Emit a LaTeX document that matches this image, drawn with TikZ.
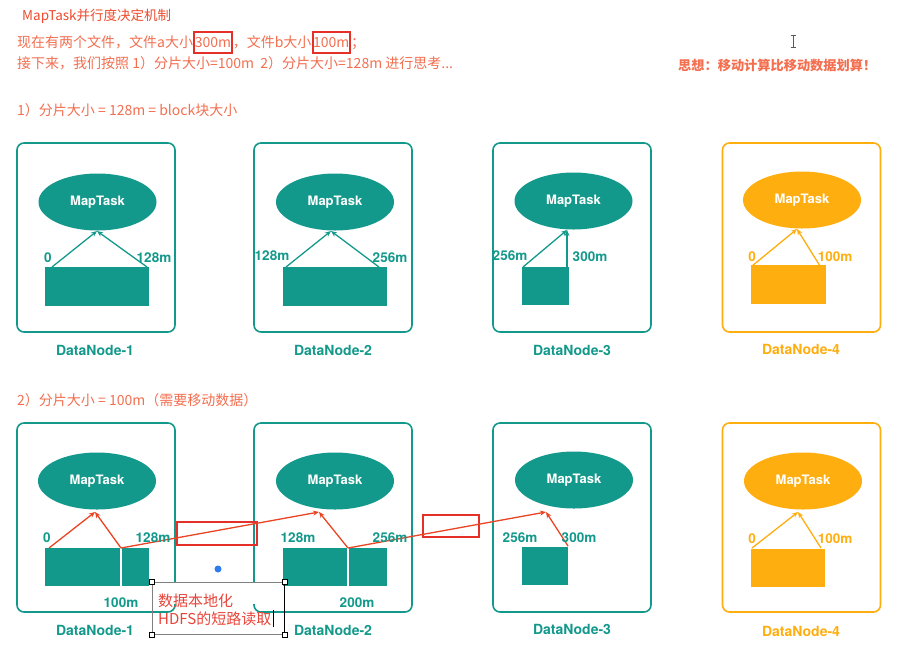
\documentclass[tikz,border=0pt]{standalone}
\usepackage{fontspec}
\setmainfont{TeX Gyre Heros}
\newfontfamily\cjk{Noto Sans CJK SC}
\usetikzlibrary{shapes.geometric,arrows.meta}
\definecolor{tealc}{HTML}{13998B}
\definecolor{orng}{HTML}{FFAE10}
\definecolor{salmon}{HTML}{F36F50}
\definecolor{titlered}{HTML}{EE4C2E}
\definecolor{boxred}{HTML}{E5302A}
\definecolor{arrred}{HTML}{EA4424}
\definecolor{annred}{HTML}{E8443A}
\definecolor{dotblue}{HTML}{2E7CF0}
\begin{document}
\begin{tikzpicture}[x=1pt,y=-1pt,
  hdr/.style={font=\cjk\fontsize{14}{17}\selectfont,text=salmon,inner sep=0pt},
  redsel/.style={hdr,draw=boxred,line width=2pt,inner xsep=0.5pt,minimum height=21pt},
  dnbox/.style={draw=tealc,line width=1.6pt,rounded corners=7pt,minimum width=158pt,minimum height=189pt,inner sep=0pt},
  dnboxo/.style={dnbox,draw=orng},
  mt/.style={ellipse,fill=tealc,minimum width=118pt,minimum height=57pt,inner sep=0pt,text=white,font=\bfseries\fontsize{13}{15}\selectfont},
  mto/.style={mt,fill=orng},
  blk/.style={fill=tealc,inner sep=0pt},
  blko/.style={fill=orng,inner sep=0pt},
  lab/.style={text=tealc,font=\bfseries\fontsize{13.5}{15}\selectfont,inner sep=0pt},
  labo/.style={lab,text=orng},
  dnname/.style={text=tealc,font=\bfseries\fontsize{14}{16}\selectfont,inner sep=0pt},
  dnnameo/.style={dnname,text=orng},
  tarr/.style={draw=tealc,line width=1.3pt,-{Stealth[length=6pt,width=5pt]}},
  oarr/.style={draw=orng,line width=1.3pt,-{Stealth[length=6pt,width=5pt]}},
  rarr/.style={draw=arrred,line width=1.3pt,-{Stealth[length=6pt,width=5pt]}},
  redbox/.style={draw=boxred,line width=2pt,inner sep=0pt},
  anntext/.style={text=annred,font=\cjk\fontsize{15}{18}\selectfont,inner sep=0pt},
  handle/.style={draw=black,fill=white,line width=0.6pt,minimum size=5pt,inner sep=0pt}]
\useasboundingbox[fill=white] (0,0) rectangle (910,657);

% ---------- headers ----------
\node[hdr,text=titlered,font=\cjk\fontsize{13.5}{16}\selectfont,anchor=base west] (title) at (22,20) {MapTask并行度决定机制};
\node[hdr,anchor=base west] (l2a) at (17,47) {现在有两个文件，文件a大小};
\node[redsel,anchor=base west] (s300) at (l2a.base east) {300m};
\node[hdr,anchor=base west] (l2c) at (s300.base east) {，文件b大小};
\node[redsel,anchor=base west] (s100) at (l2c.base east) {100m};
\node[hdr,anchor=base west] (l2e) at (s100.base east) {；};
\node[hdr,anchor=base west] (l3) at (17,68) {接下来，我们按照 1）分片大小=100m\ \ 2）分片大小=128m 进行思考...};
\node[hdr,font=\cjk\bfseries\fontsize{13.2}{16}\selectfont,anchor=base west] (idea) at (678,70) {思想：移动计算比移动数据划算！};
\node[hdr,anchor=base west] (h1) at (17,115) {1）分片大小 = 128m = block块大小};
\node[hdr,anchor=base west] (h2) at (17,405) {2）分片大小 = 100m（需要移动数据）};

% text cursor
\draw[gray!70!black,line width=0.8pt] (793,35) -- (793,47) (790.5,35) -- (795.5,35) (790.5,47) -- (795.5,47);

% ---------- row 1 ----------
\node[dnbox] (b1) at (96,237.5) {};
\node[dnbox] (b2) at (333,237.5) {};
\node[dnbox] (b3) at (572,237.5) {};
\node[dnboxo] (b4) at (801.5,237.5) {};

\node[mt] (e1) at (97.5,202) {MapTask};
\node[mt] (e2) at (335,202) {MapTask};
\node[mt] (e3) at (573.5,201) {MapTask};
\node[mto] (e4) at (802,200) {MapTask};

\node[blk,minimum width=104pt,minimum height=39pt] (r1) at (97,286.5) {};
\node[blk,minimum width=104pt,minimum height=39pt] (r2) at (335,286.5) {};
\node[blk,minimum width=47pt,minimum height=38pt] (r3) at (545.5,286) {};
\node[blko,minimum width=75pt,minimum height=39pt] (r4) at (788.5,284.5) {};

\coordinate (p1a) at (52,267);  \coordinate (p1b) at (147,267); \coordinate (t1) at (97,231);
\coordinate (p2a) at (286,267); \coordinate (p2b) at (379,267); \coordinate (t2) at (331,231);
\coordinate (p3a) at (523,267); \coordinate (p3b) at (567,267); \coordinate (t3) at (567,230);
\coordinate (p4a) at (752,266); \coordinate (p4b) at (820,266); \coordinate (t4) at (797,229);

\draw[tarr] (p1a) -- (t1);
\draw[tarr] (p1b) -- (t1);
\draw[tarr] (p2a) -- (t2);
\draw[tarr] (p2b) -- (t2);
\draw[tarr] (p3a) -- (t3);
\draw[tarr] (p3b) -- (t3);
\draw[oarr] (p4a) -- (t4);
\draw[oarr] (p4b) -- (t4);

\node[lab] (a1l) at (48,258) {0};
\node[lab] (a1r) at (154,258) {128m};
\node[lab] (a2l) at (272,256) {128m};
\node[lab] (a2r) at (390,258) {256m};
\node[lab] (a3l) at (510,256) {256m};
\node[lab] (a3r) at (590,257) {300m};
\node[labo] (a4l) at (752,257) {0};
\node[labo] (a4r) at (835,257) {100m};

\node[dnname] (n1) at (95,350) {DataNode-1};
\node[dnname] (n2) at (333,350) {DataNode-2};
\node[dnname] (n3) at (572,350) {DataNode-3};
\node[dnnameo] (n4) at (801,349) {DataNode-4};

% ---------- row 2 ----------
\node[dnbox] (c1) at (96,517.5) {};
\node[dnbox] (c2) at (333,517.5) {};
\node[dnbox] (c3) at (572,517.5) {};
\node[dnboxo] (c4) at (801.5,517.5) {};

\node[mt] (f1) at (97,481) {MapTask};
\node[mt] (f2) at (335,481) {MapTask};
\node[mt] (f3) at (574,480) {MapTask};
\node[mto] (f4) at (803,481) {MapTask};

\node[blk,minimum width=75pt,minimum height=38pt] (s1a) at (82.5,567) {};
\node[blk,minimum width=27pt,minimum height=38pt] (s1b) at (135.5,567) {};
\node[blk,minimum width=64pt,minimum height=38pt] (s2a) at (315,567) {};
\node[blk,minimum width=38pt,minimum height=38pt] (s2b) at (368,567) {};
\node[blk,minimum width=46pt,minimum height=38pt] (s3) at (545,566) {};
\node[blko,minimum width=74pt,minimum height=38pt] (s4) at (788,568) {};

\node[redbox,minimum width=80pt,minimum height=23pt] (rb1) at (217,533.5) {};
\node[redbox,minimum width=56pt,minimum height=22pt] (rb2) at (451,526) {};

\coordinate (q1a) at (49,548);  \coordinate (g1) at (121,548); \coordinate (u1) at (95,512);
\coordinate (g2) at (348,548); \coordinate (u2) at (319,512);
\coordinate (q3b) at (568,546); \coordinate (u3) at (546,512);
\coordinate (q4a) at (752,548); \coordinate (q4b) at (821,548); \coordinate (u4) at (798,512);

\draw[rarr] (q1a) -- (u1);
\draw[rarr] (g1) -- (u1);
\draw[rarr] (g1) -- (u2);
\draw[rarr] (g2) -- (u2);
\draw[rarr] (g2) -- (u3);
\draw[rarr] (q3b) -- (u3);
\draw[oarr] (q4a) -- (u4);
\draw[oarr] (q4b) -- (u4);

\node[lab] (d1l) at (47,538) {0};
\node[lab] (d1r) at (153,538) {128m};
\node[lab] (d1b) at (121,603) {100m};
\node[lab] (d2l) at (298,538) {128m};
\node[lab] (d2r) at (390,538) {256m};
\node[lab] (d2b) at (357,603) {200m};
\node[lab] (d3l) at (520,538) {256m};
\node[lab] (d3r) at (579,538) {300m};
\node[labo] (d4l) at (752,539) {0};
\node[labo] (d4r) at (835,539) {100m};

\node[dnname] (m1) at (95,630) {DataNode-1};
\node[dnname] (m2) at (333,630) {DataNode-2};
\node[dnname] (m3) at (572,629) {DataNode-3};
\node[dnnameo] (m4) at (801,631) {DataNode-4};

% blue dot
\node[circle,fill=dotblue,minimum size=7pt,inner sep=0pt] (dot) at (218,569) {};

% annotation text box
\fill[white] (153,583) rectangle (283,604);
\node[draw=gray,line width=1pt,minimum width=132pt,minimum height=52pt,inner sep=0pt] (ann) at (218,608) {};
\draw[black,line width=1pt] (ann.north east) -- (ann.south east);
\node[anntext,anchor=base west] (ann1) at (158,606) {数据本地化};
\node[anntext,anchor=base west] (ann2) at (158,624) {HDFS的短路读取};
\draw[black,line width=0.8pt] ([xshift=1.5pt]ann2.base east) ++(0,3) -- ++(0,-17);
\node[handle] (h_nw) at (ann.north west) {};
\node[handle] (h_ne) at (ann.north east) {};
\node[handle] (h_sw) at (ann.south west) {};
\node[handle] (h_se) at (ann.south east) {};
\end{tikzpicture}
\end{document}
